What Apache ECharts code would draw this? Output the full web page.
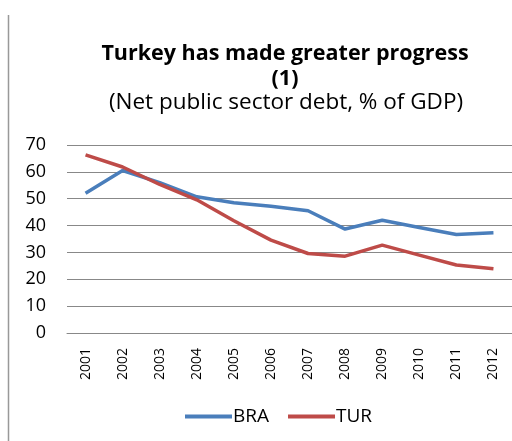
<!DOCTYPE html>
<html>
<head>
<meta charset="utf-8">
<script src="https://cdn.jsdelivr.net/npm/echarts@6/dist/echarts.min.js"></script>
<style>
    html, body { margin: 0; padding: 0; background: #fff; }
    #chart { width: 512px; height: 441px; }
</style>
</head>
<body>
<div id="chart"></div>
<script>
    var years = ['2001', '2002', '2003', '2004', '2005', '2006', '2007', '2008', '2009', '2010', '2011', '2012'];
    var bra = [52, 60.5, 56, 50.7, 48.5, 47.2, 45.5, 38.7, 42, 39.3, 36.7, 37.3];
    var tur = [66.3, 61.8, 55.3, 49.6, 41.8, 34.6, 29.6, 28.6, 32.7, 29, 25.3, 23.9];
    var yTicks = [0, 10, 20, 30, 40, 50, 60, 70];

    var fontName = 'Open Sans';
    var chart = echarts.init(document.getElementById('chart'));

    chart.setOption({
        animation: false,
        backgroundColor: '#fff',
        title: [{
            text: 'Turkey has made greater progress\n(1)',
            left: 280,
            top: 36,
            textAlign: 'center',
            textStyle: { fontFamily: fontName, fontSize: 21.5, fontWeight: 'bold', color: '#000', lineHeight: 25 }
        }, {
            text: '(Net public sector debt, % of GDP)',
            left: 281,
            top: 84,
            textAlign: 'center',
            textStyle: { fontFamily: fontName, fontSize: 22.5, fontWeight: 'normal', color: '#000', lineHeight: 28 }
        }],
        legend: {
            bottom: 10,
            left: 180,
            itemWidth: 47,
            itemHeight: 4,
            itemGap: 19,
            icon: 'rect',
            textStyle: { fontFamily: fontName, fontSize: 19, color: '#000', padding: [0, 0, 0, -4] },
            data: ['BRA', 'TUR']
        },
        grid: { left: 67, right: -4, top: 145, bottom: 108 },
        xAxis: {
            type: 'category',
            data: years,
            axisLine: { lineStyle: { color: '#888' } },
            axisTick: { show: false },
            axisLabel: { rotate: 90, fontFamily: fontName, fontSize: 14, color: '#000', margin: 15 }
        },
        yAxis: {
            type: 'value',
            min: yTicks[0],
            max: yTicks[yTicks.length - 1],
            interval: 10,
            axisLine: { show: false },
            axisTick: { show: false },
            axisLabel: { fontFamily: fontName, fontSize: 18, color: '#000', margin: 21 },
            splitLine: { lineStyle: { color: '#888', width: 1 } }
        },
        graphic: [{
            type: 'line',
            shape: { x1: 8.5, y1: 15, x2: 8.5, y2: 441 },
            style: { stroke: '#999', lineWidth: 1.5 }
        }],
        series: [{
            name: 'BRA',
            type: 'line',
            data: bra,
            symbol: 'none',
            itemStyle: { color: '#4a7ebb' },
            lineStyle: { color: '#4a7ebb', width: 3.5 }
        }, {
            name: 'TUR',
            type: 'line',
            data: tur,
            symbol: 'none',
            itemStyle: { color: '#be4b48' },
            lineStyle: { color: '#be4b48', width: 3.5 }
        }]
    });
</script>
</body>
</html>
